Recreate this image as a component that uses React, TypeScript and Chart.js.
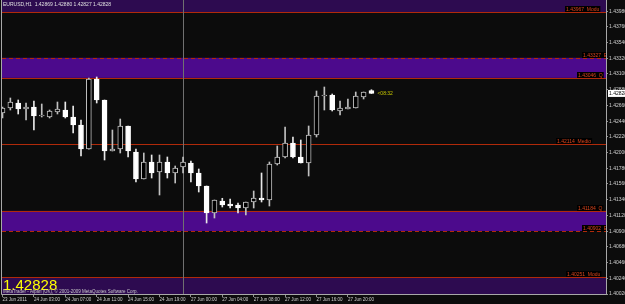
import React, { useEffect, useRef } from "react";
import { Chart, registerables } from "chart.js";
Chart.register(...registerables);

// ---- data ----
const opens = [
  1.42554, 1.42624, 1.42694, 1.4261, 1.42638, 1.42512, 1.42498, 1.42568, 1.42596, 1.42498,
  1.42386, 1.4205, 1.4303, 1.42736, 1.42022, 1.4205, 1.42372, 1.42008, 1.4163, 1.41868,
  1.41728, 1.41868, 1.41714, 1.41798, 1.41854, 1.41714, 1.41532, 1.41154, 1.41322, 1.4128,
  1.41266, 1.41224, 1.41308, 1.41364, 1.41336, 1.4184, 1.41938, 1.42134, 1.41938, 1.41854,
  1.42246, 1.42792, 1.42806, 1.42582, 1.4261, 1.42624, 1.42778, 1.42869,
];
const highs = [
  1.42638, 1.42764, 1.42736, 1.42694, 1.42722, 1.4268, 1.42596, 1.42708, 1.42708, 1.42652,
  1.42456, 1.43044, 1.43058, 1.42736, 1.42316, 1.4247, 1.42372, 1.4205, 1.41994, 1.41966,
  1.41966, 1.41938, 1.41812, 1.41938, 1.41882, 1.4177, 1.41532, 1.41336, 1.4136, 1.4135,
  1.41294, 1.41308, 1.41462, 1.41714, 1.41868, 1.42092, 1.42358, 1.42218, 1.42176, 1.42372,
  1.42862, 1.42918, 1.4282, 1.42722, 1.4275, 1.42848, 1.42848, 1.4288,
];
const lows = [
  1.42484, 1.42596, 1.4254, 1.42456, 1.42316, 1.42498, 1.42484, 1.4254, 1.42484, 1.42274,
  1.41952, 1.42046, 1.42694, 1.41896, 1.42022, 1.41994, 1.41938, 1.41588, 1.4163, 1.41644,
  1.41406, 1.41644, 1.41574, 1.41714, 1.41588, 1.41448, 1.41014, 1.41084, 1.41238, 1.41224,
  1.41154, 1.41126, 1.41224, 1.41308, 1.41252, 1.41826, 1.41924, 1.41924, 1.41854, 1.41672,
  1.42218, 1.42596, 1.42582, 1.42526, 1.4261, 1.42624, 1.4275, 1.42827,
];
const closes = [
  1.42624, 1.42708, 1.4261, 1.42638, 1.42512, 1.42514, 1.42582, 1.4261, 1.42498, 1.42386,
  1.4205, 1.4303, 1.42736, 1.42022, 1.4205, 1.42372, 1.42022, 1.4163, 1.41868, 1.41714,
  1.41868, 1.41714, 1.41784, 1.41868, 1.41714, 1.41532, 1.41154, 1.41336, 1.41266, 1.41252,
  1.41224, 1.41308, 1.41364, 1.41336, 1.4184, 1.41938, 1.42134, 1.41938, 1.41854, 1.42246,
  1.42792, 1.42806, 1.42596, 1.42624, 1.42638, 1.42792, 1.42848, 1.42828,
];
const timeLabels = [
  "23 Jun 2011", "24 Jun 03:00", "24 Jun 07:00", "24 Jun 11:00", "24 Jun 15:00", "24 Jun 19:00",
  "27 Jun 00:00", "27 Jun 04:00", "27 Jun 08:00", "27 Jun 12:00", "27 Jun 16:00", "27 Jun 20:00",
];
const timeLabelBars = [0, 4, 8, 12, 16, 20, 24, 28, 32, 36, 40, 44];
const priceTicks = [
  1.4002, 1.4024, 1.4046, 1.4068, 1.409, 1.4112, 1.4134, 1.4156, 1.4178, 1.42,
  1.4222, 1.4244, 1.4266, 1.4288, 1.431, 1.4332, 1.4354, 1.4376, 1.4398,
];
const levelPrices = [1.43967, 1.43327, 1.43046, 1.42114, 1.41184, 1.40902, 1.40251];
const levelNames = ["Modu", "E", "Q", "Medio", "Q", "E", "Modu"];
const levelDashed = [false, true, false, false, false, true, false];
const headerText = "EURUSD,H1  1.42869 1.42880 1.42827 1.42828";
const lastPrice = 1.42828;
const timeLeft = "<08:32";
const copyright = "MetaTrader - Alpari (UK), © 2001-2009 MetaQuotes Software Corp.";
const separatorBar = 23;
const yMin = 1.4002;
const yMax = 1.44136;
const xMin = -0.064;
const xMax = 76.88;

// ---- styles ----
const BG = "#0c0c0c";
const OUTER_BAND = "#2d0b50";
const ZONE = "#4c0a8c";
const LEVEL_LINE = "#b02a0a";
const LEVEL_TEXT = "#d8441c";
const labelOffsets = [40, 23, 28, 49, 28, 23, 39];
const FONT = "Liberation Sans";

const mtPlugin = {
  id: "mt",
  beforeDraw(chart: any) {
    const { ctx, chartArea: a, scales } = chart;
    const y = scales.y;
    const x = scales.x;
    const w = a.right - a.left;
    const py = (v: number) => y.getPixelForValue(v);
    ctx.save();
    ctx.fillStyle = BG;
    ctx.fillRect(0, 0, chart.width, chart.height);
    ctx.beginPath();
    ctx.rect(a.left, a.top, w, a.bottom - a.top);
    ctx.clip();
    ctx.fillStyle = OUTER_BAND;
    ctx.fillRect(a.left, a.top, w, py(levelPrices[0]) - a.top);
    ctx.fillRect(a.left, py(levelPrices[6]), w, a.bottom - py(levelPrices[6]));
    ctx.fillStyle = ZONE;
    ctx.fillRect(a.left, py(levelPrices[1]), w, py(levelPrices[2]) - py(levelPrices[1]));
    ctx.fillRect(a.left, py(levelPrices[4]), w, py(levelPrices[5]) - py(levelPrices[4]));
    ctx.lineWidth = 1;
    levelPrices.forEach((p, i) => {
      const ly = Math.round(py(p)) + 0.5;
      ctx.strokeStyle = LEVEL_LINE;
      ctx.setLineDash(levelDashed[i] ? [4, 3] : []);
      ctx.beginPath();
      ctx.moveTo(a.left, ly);
      ctx.lineTo(a.right, ly);
      ctx.stroke();
    });
    ctx.setLineDash([]);
    const sx = Math.round(x.getPixelForValue(separatorBar)) + 0.5;
    ctx.strokeStyle = "#707070";
    ctx.beginPath();
    ctx.moveTo(sx, a.top);
    ctx.lineTo(sx, a.bottom);
    ctx.stroke();
    ctx.restore();
  },
  afterDraw(chart: any) {
    const { ctx, chartArea: a, scales } = chart;
    const y = scales.y;
    const x = scales.x;
    const py = (v: number) => y.getPixelForValue(v);
    ctx.save();
    ctx.beginPath();
    ctx.rect(a.left, a.top, a.right - a.left, a.bottom - a.top);
    ctx.clip();
    ctx.font = `5px "${FONT}"`;
    ctx.textBaseline = "bottom";
    ctx.textAlign = "left";
    levelPrices.forEach((p, i) => {
      const ly = Math.round(py(p));
      const txt = `${p.toFixed(5)}  ${levelNames[i]}`;
      const tx = a.right - labelOffsets[i];
      const tw = ctx.measureText(txt).width;
      ctx.fillStyle = "#000000";
      ctx.fillRect(tx - 1, ly - 6, tw + 2, 6);
      ctx.fillStyle = LEVEL_TEXT;
      ctx.fillText(txt, tx, ly);
    });
    // header
    ctx.fillStyle = "#e0e0e0";
    ctx.textBaseline = "middle";
    ctx.fillText(headerText, 3, 5);
    // time left
    ctx.fillStyle = "#c8c800";
    ctx.fillText(timeLeft, x.getPixelForValue(opens.length - 1) + 6, py(lastPrice));
    // big price
    ctx.fillStyle = "#ffff00";
    ctx.font = `15px "${FONT}"`;
    ctx.textBaseline = "alphabetic";
    ctx.fillText(lastPrice.toFixed(5), 3, 290);
    ctx.fillStyle = "#c8c8c8";
    ctx.font = `4.5px "${FONT}"`;
    ctx.textBaseline = "middle";
    ctx.fillText(copyright, 3, 291.5);
    ctx.restore();
    // frame
    ctx.save();
    ctx.strokeStyle = "#a8a8a8";
    ctx.lineWidth = 1;
    ctx.beginPath();
    ctx.moveTo(a.left - 0.5, a.top);
    ctx.lineTo(a.left - 0.5, a.bottom + 0.5);
    ctx.lineTo(a.right + 0.5, a.bottom + 0.5);
    ctx.lineTo(a.right + 0.5, a.top);
    ctx.stroke();
    // current price box on axis
    const cy = py(lastPrice);
    ctx.fillStyle = "#ffffff";
    ctx.fillRect(a.right + 2, cy - 3.5, 19, 7);
    ctx.fillStyle = "#000000";
    ctx.font = `5px "${FONT}"`;
    ctx.textBaseline = "middle";
    ctx.textAlign = "left";
    ctx.fillText(lastPrice.toFixed(5), a.right + 3, cy);
    ctx.restore();
  },
};

export default function App() {
  const ref = useRef<HTMLCanvasElement>(null);
  useEffect(() => {
    document.body.style.margin = "0";
    document.body.style.background = BG;
    const bull = opens.map((o, i) => closes[i] >= o);
    const chart = new Chart(ref.current as HTMLCanvasElement, {
      type: "bar",
      data: {
        datasets: [
          {
            label: "wicks",
            data: highs.map((h, i) => ({ x: i, y: [lows[i], h] })) as any,
            backgroundColor: bull.map((b) => (b ? "#c0c0c0" : "#e8e8e8")),
            borderWidth: 0,
            barThickness: 1,
            grouped: false,
            order: 2,
          } as any,
          {
            label: "bodies",
            data: opens.map((o, i) => ({ x: i, y: [o, closes[i]] })) as any,
            backgroundColor: bull.map((b) => (b ? "#000000" : "#ffffff")),
            borderColor: bull.map((b) => (b ? "#c0c0c0" : "#ffffff")),
            borderWidth: 1,
            borderSkipped: false,
            minBarLength: 1,
            barThickness: 5,
            grouped: false,
            order: 1,
          } as any,
        ],
      },
      options: {
        responsive: false,
        animation: false,
        events: [],
        layout: { padding: { left: 2, top: 0, right: 0, bottom: 0 } },
        plugins: { legend: { display: false }, tooltip: { enabled: false } },
        scales: {
          x: {
            type: "linear",
            min: xMin,
            max: xMax,
            offset: false,
            afterFit: (s: any) => {
              s.height = 10;
              s.paddingLeft = 0;
              s.paddingRight = 0;
            },
            afterBuildTicks: (s: any) => {
              s.ticks = timeLabelBars.map((v) => ({ value: v }));
            },
            grid: { display: true, drawOnChartArea: false, drawTicks: true, tickLength: 3, color: "#909090", offset: false },
            border: { display: false },
            ticks: {
              autoSkip: false,
              maxRotation: 0,
              minRotation: 0,
              align: "start",
              padding: 0,
              color: "#d0d0d0",
              font: { family: FONT, size: 4.5 },
              callback: (v: any) => {
                const k = timeLabelBars.indexOf(Number(v));
                return k >= 0 ? timeLabels[k] : "";
              },
            },
          } as any,
          y: {
            type: "linear",
            position: "right",
            min: yMin,
            max: yMax,
            afterFit: (s: any) => {
              s.width = 19;
              s.paddingTop = 0;
              s.paddingBottom = 0;
            },
            afterBuildTicks: (s: any) => {
              s.ticks = priceTicks.map((v) => ({ value: v }));
            },
            grid: { display: true, drawOnChartArea: false, drawTicks: true, tickLength: 2, color: "#909090" },
            border: { display: false },
            ticks: {
              autoSkip: false,
              padding: 1,
              color: "#d0d0d0",
              font: { family: FONT, size: 5 },
              callback: (v: any) => Number(v).toFixed(5),
            },
          } as any,
        },
      },
      plugins: [mtPlugin],
    });
    return () => chart.destroy();
  }, []);
  return (
    <canvas
      ref={ref}
      width={625}
      height={304}
      style={{ display: "block", width: 625, height: 304 }}
    />
  );
}
